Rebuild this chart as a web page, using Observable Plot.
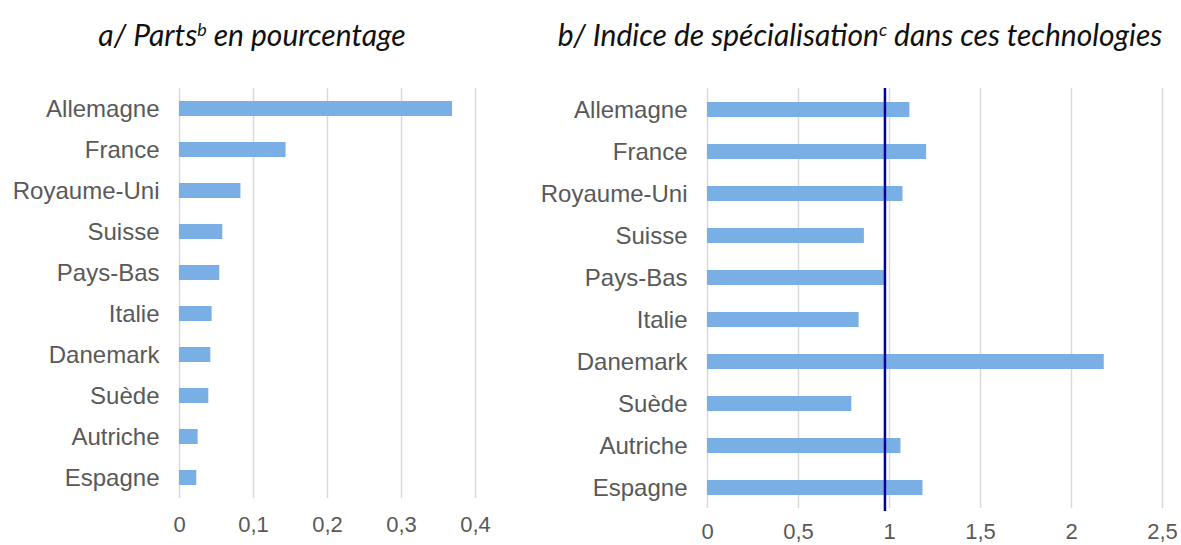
<!DOCTYPE html>
<html>
<head>
<meta charset="utf-8">
<script src="https://cdn.jsdelivr.net/npm/d3@7"></script>
<script src="https://cdn.jsdelivr.net/npm/@observablehq/plot@0.6"></script>
<style>
  html, body { margin: 0; padding: 0; background: #fff; }
  #wrap { position: relative; width: 1181px; height: 545px; overflow: hidden; }
  .title { position: absolute; top: 14px; text-align: center; font-family: Lato, "Open Sans", sans-serif; font-style: italic; font-weight: 400; font-size: 30px; color: #111; white-space: nowrap; line-height: 40px; }
  .title sup { font-size: 0.6em; vertical-align: 0.55em; line-height: 0; }
  .panel { position: absolute; top: 70px; }
  .panel svg, .panel svg text { font-family: "Liberation Sans", Arial, sans-serif !important; }
</style>
</head>
<body>
<div id="wrap">
  <div class="title" style="left:0px;width:504px;">a/ Parts<sup>b</sup> en pourcentage</div>
  <div class="title" style="left:540px;width:640px;">b/ Indice de spécialisation<sup>c</sup> dans ces technologies</div>
  <div class="panel" id="left" style="left:0px;"></div>
  <div class="panel" id="right" style="left:530px;"></div>
</div>
<script>
const countries = ["Allemagne", "France", "Royaume-Uni", "Suisse", "Pays-Bas", "Italie", "Danemark", "Suède", "Autriche", "Espagne"];
const shares = [0.369, 0.144, 0.083, 0.0585, 0.0544, 0.0441, 0.0423, 0.0396, 0.0252, 0.0234];
const specialisation = [1.112, 1.204, 1.074, 0.862, 0.976, 0.833, 2.18, 0.793, 1.063, 1.184];
const sharesTicks = [0, 0.1, 0.2, 0.3, 0.4];
const specTicks = [0, 0.5, 1, 1.5, 2, 2.5];
const referenceLine = 0.975;

const fmt = d => String(d).replace(".", ",");
const barColor = "#7aafe6";
const gridColor = "#d9d9d9";
const textColor = "#595959";

const leftData = countries.map((c, i) => ({country: c, value: shares[i]}));
const rightData = countries.map((c, i) => ({country: c, value: specialisation[i]}));

function panel(data, ticks, domain, opts) {
  return Plot.plot({
    width: opts.width,
    height: opts.height,
    marginTop: opts.marginTop,
    marginBottom: opts.marginBottom,
    marginLeft: opts.marginLeft,
    marginRight: opts.marginRight,
    style: {fontFamily: "Liberation Sans, Arial, sans-serif", color: textColor, background: "#fff", overflow: "visible"},
    x: {domain: domain, ticks: ticks, tickFormat: fmt, label: null},
    y: {domain: countries, paddingInner: opts.padInner, paddingOuter: opts.padInner / 2, label: null},
    marks: [
      Plot.gridX(ticks, {stroke: gridColor, strokeOpacity: 1, strokeWidth: 1.5}),
      Plot.barX(data, {x: "value", y: "country", fill: barColor}),
      ...(opts.extra || []),
      Plot.axisX(ticks, {tickSize: 0, tickPadding: opts.xPad, tickFormat: fmt, fontSize: 22, fill: textColor, label: null}),
      Plot.axisY({tickSize: 0, tickPadding: 20, fontSize: 24, fill: textColor, label: null})
    ]
  });
}

document.getElementById("left").appendChild(panel(leftData, sharesTicks, [0, 0.4], {
  width: 530, height: 475, marginTop: 18, marginBottom: 47, marginLeft: 179, marginRight: 55,
  padInner: 0.634, xPad: 18
}));

document.getElementById("right").appendChild(panel(rightData, specTicks, [0, 2.5], {
  width: 651, height: 475, marginTop: 18, marginBottom: 37, marginLeft: 177, marginRight: 19,
  padInner: 0.643, xPad: 15,
  extra: [Plot.ruleX([referenceLine], {stroke: "#00009c", strokeWidth: 2.5, insetBottom: -3})]
}));
</script>
</body>
</html>
